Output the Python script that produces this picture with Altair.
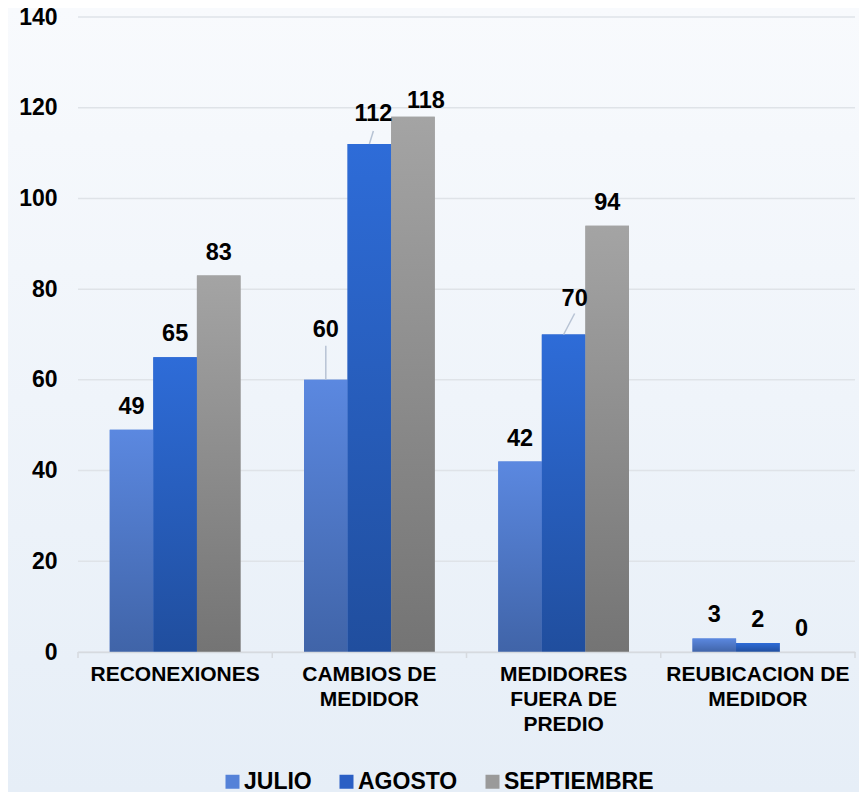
import altair as alt
import pandas as pd

# ---------------- data ----------------
categories = ["RECONEXIONES", "CAMBIOS DE\nMEDIDOR", "MEDIDORES\nFUERA DE\nPREDIO", "REUBICACION DE\nMEDIDOR"]
series = ["JULIO", "AGOSTO", "SEPTIEMBRE"]
julio = [49, 60, 42, 3]
agosto = [65, 112, 70, 2]
septiembre = [83, 118, 94, 0]
y_ticks = [0, 20, 40, 60, 80, 100, 120, 140]

rows = []
for s, vals in zip(series, [julio, agosto, septiembre]):
    for ci, (c, v) in enumerate(zip(categories, vals)):
        rows.append({"cat": c, "ci": ci, "serie": s, "valor": v})
df = pd.DataFrame(rows)
cat_df = pd.DataFrame({"cat": categories, "ci": list(range(len(categories)))})
tick_df = pd.DataFrame({"valor": y_ticks})

# ---------------- styling ----------------
FONT = "Liberation Sans"
W, H = 777, 635
PAD_L, PAD_T, PAD_R, PAD_B = 70, 9, 4, 140
legend_colors = ["#5582d8", "#2a5fc4", "#9a9a9a"]
grad_stops = {
    "JULIO": ("#5b88e0", "#4064a8"),
    "AGOSTO": ("#2e6cd8", "#204e9e"),
    "SEPTIEMBRE": ("#a4a4a4", "#747474"),
}
P_IN = 0.327

# label nudges (dx, dy) in px for labels that are moved off the default place
label_nudge = {(1, "JULIO"): (0, -43), (1, "AGOSTO"): (4, -23),
               (1, "SEPTIEMBRE"): (13, -9), (2, "AGOSTO"): (11, -29)}
DEFAULT_DY = -16
# leader lines (dx, dy) from the bar top
leaders = {(1, "JULIO"): (0, -34), (1, "AGOSTO"): (4, -13), (2, "AGOSTO"): (11, -21)}


def grad(top, bottom):
    return alt.LinearGradient(
        gradient="linear", x1=0, x2=0, y1=0, y2=1,
        stops=[alt.GradientStop(color=top, offset=0), alt.GradientStop(color=bottom, offset=1)],
    )


x_enc = alt.X(
    "cat:N", sort=categories,
    scale=alt.Scale(paddingInner=P_IN, paddingOuter=P_IN / 2),
    axis=alt.Axis(
        title=None, labelAngle=0, labelExpr="split(datum.label, '\\n')",
        labelFont=FONT, labelFontSize=21, labelFontWeight="bold", labelColor="#000000",
        labelLineHeight=25, labelPadding=11, labelBaseline="top", labelLimit=0,
        domainColor="#d6dadf", domainWidth=1.5, ticks=False, grid=False, zindex=1,
    ),
)
xo_enc = alt.XOffset("serie:N", sort=series, scale=alt.Scale(domain=series, paddingInner=0, paddingOuter=0))
y_enc = alt.Y(
    "valor:Q", scale=alt.Scale(domain=[0, 140], nice=False),
    axis=alt.Axis(
        values=y_ticks, title=None, domain=False, ticks=False, grid=False, zindex=1,
        labelFont=FONT, labelFontSize=23, labelFontWeight="bold", labelColor="#000000",
        labelPadding=21,
    ),
)

base = alt.Chart(df)

background = alt.Chart(pd.DataFrame({"a": [0]})).mark_rect(
    fill=grad("#f8fafd", "#e6eef7")
).encode(x=alt.value(-PAD_L), x2=alt.value(W + PAD_R), y=alt.value(-PAD_T), y2=alt.value(H + PAD_B))

grid = alt.Chart(tick_df).mark_rule(color="#dfe3e8", strokeWidth=1.5).encode(
    y=alt.Y("valor:Q"), x=alt.value(0), x2=alt.value(W)
)

legend_bars = base.mark_bar().encode(
    x=x_enc, xOffset=xo_enc, y=y_enc,
    color=alt.Color(
        "serie:N", sort=series,
        scale=alt.Scale(domain=series, range=legend_colors),
        legend=alt.Legend(
            title=None, orient="none", direction="horizontal",
            legendX=143, legendY=753, padding=0, zindex=1,
            symbolType="square", symbolSize=196, symbolStrokeWidth=0, symbolOpacity=1,
            labelFont=FONT, labelFontSize=23, labelFontWeight="bold", labelColor="#000000",
            labelOffset=0, columnPadding=23,
        ),
    ),
)

grad_layers = []
for s in series:
    top, bottom = grad_stops[s]
    grad_layers.append(
        base.transform_filter(f"datum.serie == '{s}'").mark_bar(fill=grad(top, bottom)).encode(
            x=alt.X("cat:N", sort=categories), xOffset=xo_enc, y="valor:Q"
        )
    )

# axis ticks at category boundaries
half_gap = (P_IN / 2) * (W / len(categories))
tick_first = alt.Chart(cat_df).mark_rule(color="#d6dadf", strokeWidth=1.5, xOffset=-half_gap).encode(
    x=alt.X("cat:N", sort=categories, bandPosition=0), y=alt.value(H), y2=alt.value(H + 6)
)
tick_last = alt.Chart(cat_df).transform_filter(f"datum.ci == {len(categories) - 1}").mark_rule(
    color="#d6dadf", strokeWidth=1.5, xOffset=half_gap
).encode(x=alt.X("cat:N", sort=categories, bandPosition=1), y=alt.value(H), y2=alt.value(H + 6))

special = " || ".join(f"(datum.ci == {ci} && datum.serie == '{s}')" for (ci, s) in label_nudge)
text_kw = dict(font=FONT, fontSize=23.5, fontWeight="bold", color="#000000", baseline="alphabetic", align="center")
labels = [
    base.transform_filter(f"!({special})").mark_text(dy=DEFAULT_DY, **text_kw).encode(
        x=alt.X("cat:N", sort=categories), xOffset=xo_enc, y="valor:Q", text="valor:Q"
    )
]
for (ci, s), (dx, dy) in label_nudge.items():
    labels.append(
        base.transform_filter(f"datum.ci == {ci} && datum.serie == '{s}'").mark_text(dx=dx, dy=dy, **text_kw).encode(
            x=alt.X("cat:N", sort=categories), xOffset=xo_enc, y="valor:Q", text="valor:Q"
        )
    )

leader_layers = []
for (ci, s), (dx, dy) in leaders.items():
    r = max(abs(dx), abs(dy))
    path = f"M0,0L{dx / r:.3f},{dy / r:.3f}"
    leader_layers.append(
        base.transform_filter(f"datum.ci == {ci} && datum.serie == '{s}'").mark_point(
            shape=path, size=(2 * r) ** 2, filled=False, stroke="#b7c3d4", strokeWidth=1.5, opacity=1
        ).encode(x=alt.X("cat:N", sort=categories), xOffset=xo_enc, y="valor:Q")
    )

chart = alt.layer(
    background, grid, legend_bars, *grad_layers, tick_first, tick_last, *leader_layers, *labels
).properties(
    width=W, height=H,
    autosize=alt.AutoSizeParams(type="none"),
    padding={"left": PAD_L, "top": PAD_T, "right": PAD_R, "bottom": PAD_B},
    background="#f1f5fa",
).configure_view(stroke=None)

chart.save("out.html", embed_options={"renderer": "svg", "actions": False})
